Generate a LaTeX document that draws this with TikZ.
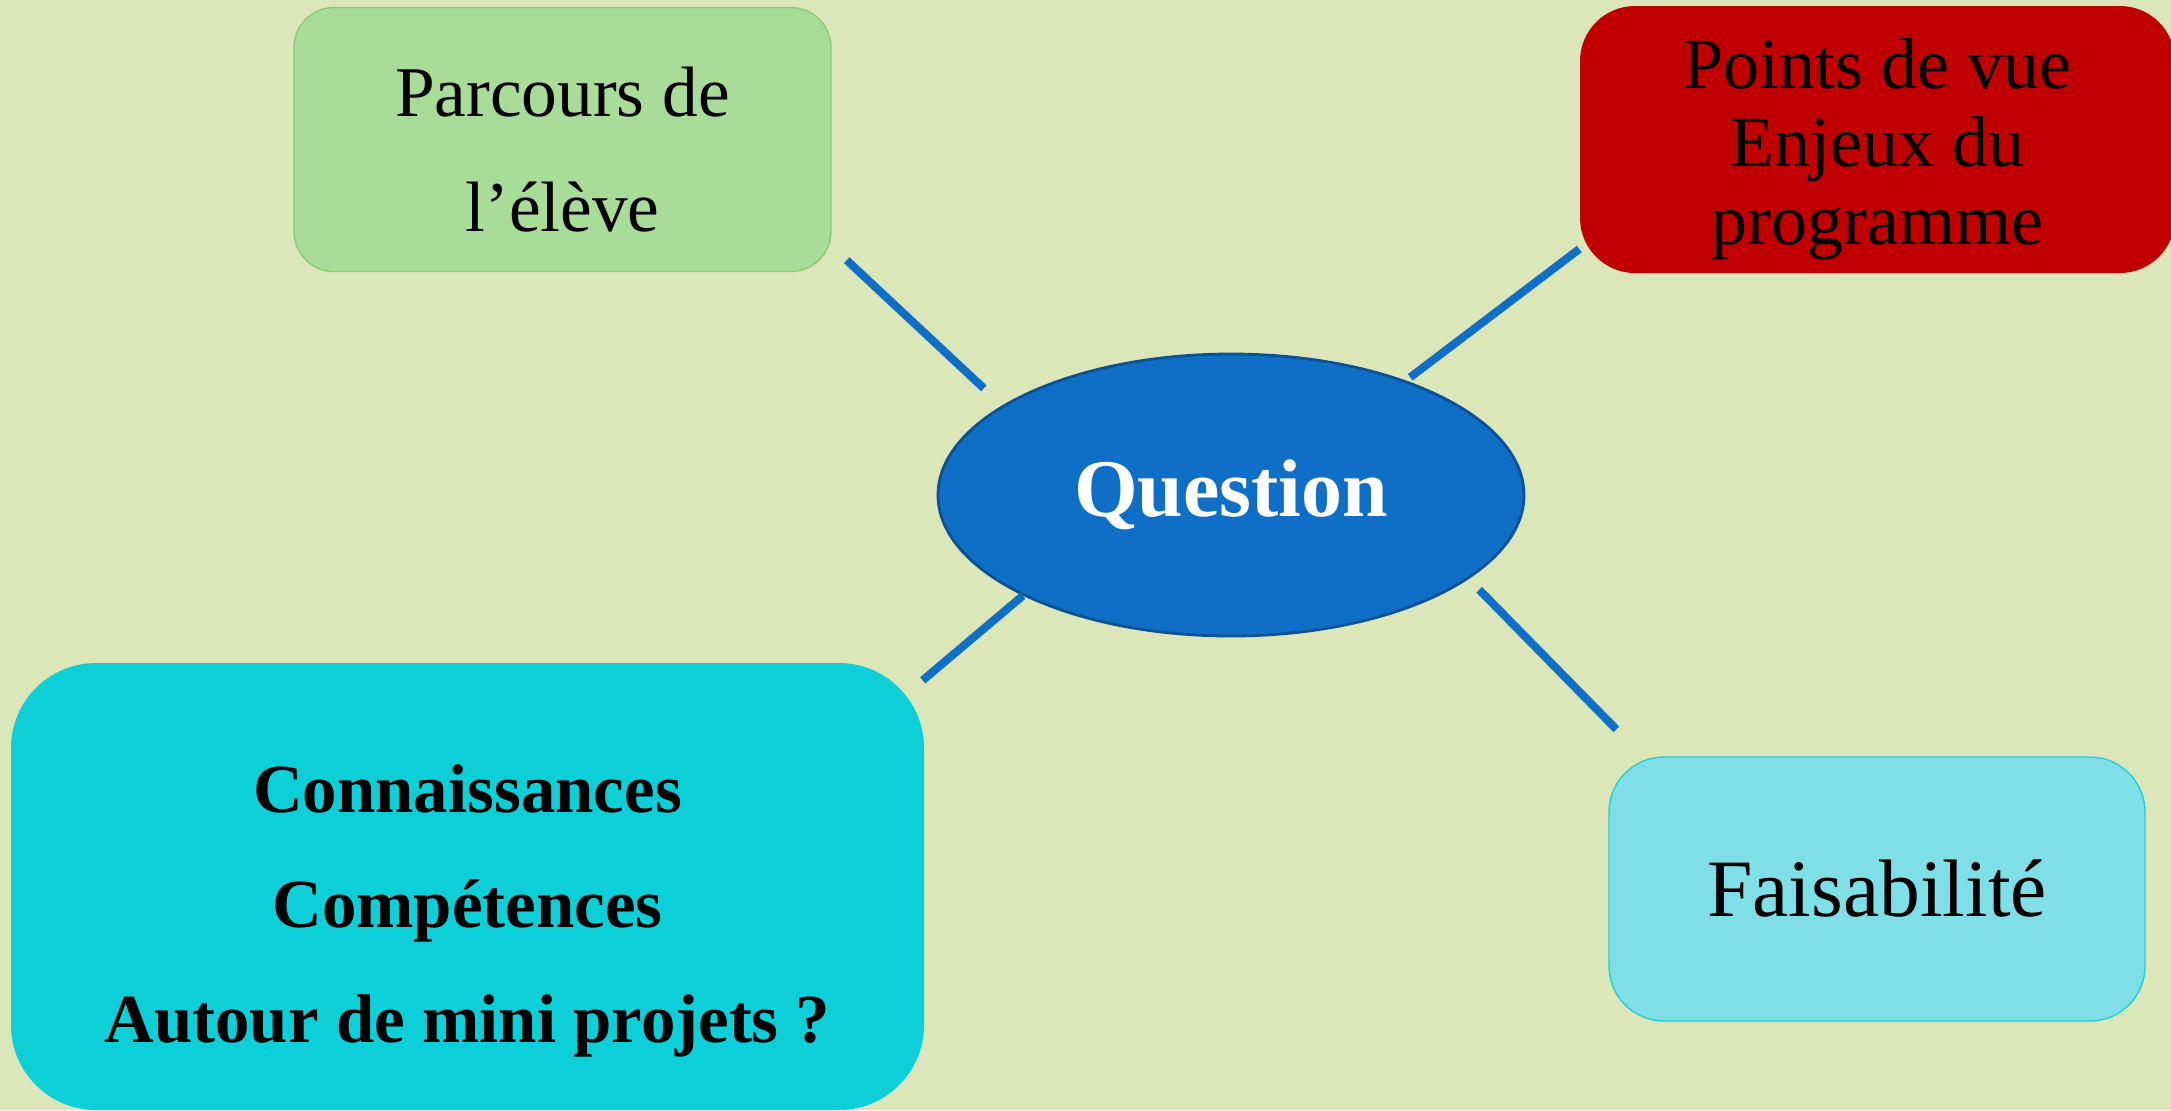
\documentclass[tikz,border=0pt]{standalone}
\usepackage{fontspec}
\setmainfont{Liberation Serif}
\usetikzlibrary{shapes.geometric}

\definecolor{fond}{HTML}{DCE7B9}
\definecolor{vertclair}{HTML}{A8DC98}
\definecolor{vertbord}{HTML}{8CCB72}
\definecolor{rouge}{HTML}{C00000}
\definecolor{bleu}{HTML}{0F6FC6}
\definecolor{bleufonce}{HTML}{0B5294}
\definecolor{cyanfort}{HTML}{0CCFD8}
\definecolor{cyanclair}{HTML}{7EE0E6}
\definecolor{cyanbord}{HTML}{2ACDD6}

\begin{document}
\begin{tikzpicture}[
    boite/.style={rectangle, inner sep=0pt, align=center, text=black},
    link/.style={draw=bleu, line width=2.3pt}]
    % fond
    \useasboundingbox[fill=fond] (0,0) rectangle (21.71,-11.10);

    % noeuds
    \node[boite, fill=vertclair, draw=vertbord, minimum width=5.37cm, minimum height=2.64cm, rounded corners=0.4cm, font={\fontsize{20.3}{32.7}\selectfont}] (parcours) at (5.625,-1.395) {\rule{0pt}{0.69cm}Parcours de\\l’élève};
    \node[boite, fill=rouge, minimum width=5.95cm, minimum height=2.67cm, rounded corners=0.55cm, font={\fontsize{20.5}{22.2}\selectfont}] (enjeux) at (18.775,-1.395) {\rule{0pt}{0.69cm}Points de vue\\Enjeux du\\programme};
    \node[ellipse, fill=bleu, draw=bleufonce, line width=0.8pt, inner sep=0pt, minimum width=5.86cm, minimum height=2.82cm, text=white, font={\fontsize{23.3}{26}\selectfont\bfseries}] (question) at (12.31,-4.95) {Question};
    \node[boite, fill=cyanfort, minimum width=9.13cm, minimum height=4.47cm, rounded corners=0.85cm, font={\fontsize{19.6}{32.7}\selectfont\bfseries}] (savoirs) at (4.675,-8.865) {\rule{0pt}{0.96cm}Connaissances\\Compétences\\Autour de mini projets ?};
    \node[boite, fill=cyanclair, draw=cyanbord, minimum width=5.36cm, minimum height=2.64cm, rounded corners=0.55cm, font={\fontsize{23.2}{26}\selectfont}] (faisab) at (18.77,-8.89) {Faisabilité};

    % liens
    \draw[link] ([shift={(0.15,0.12)}]parcours.south east) -- ([shift={(-0.39,0.06)}]question.north west);
    \draw[link] ([shift={(0,-1.095)}]enjeux.west) -- ([shift={(-0.29,0.17)}]question.north east);
    \draw[link] (question.south west) -- ([shift={(-0.02,-0.18)}]savoirs.north east);
    \draw[link] ([shift={(0.40,0.06)}]question.south east) -- ([shift={(0.08,0.27)}]faisab.north west);
\end{tikzpicture}
\end{document}
